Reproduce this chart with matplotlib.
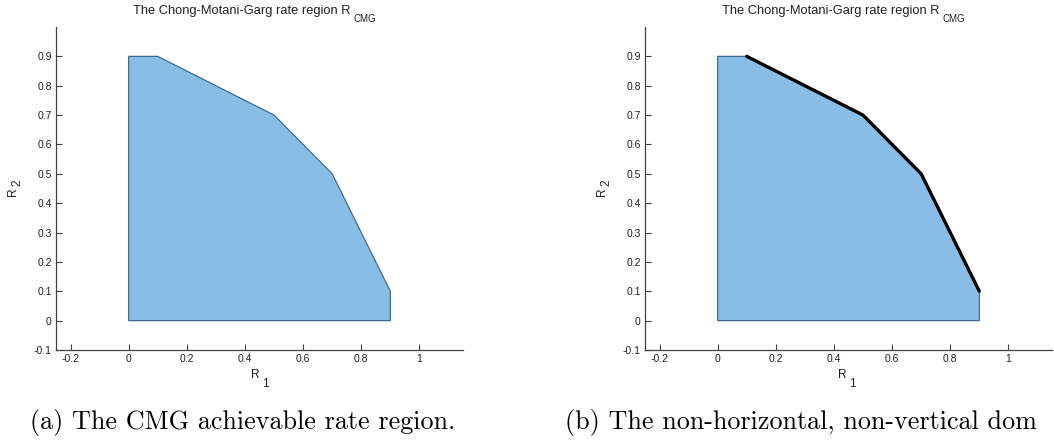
import matplotlib
matplotlib.use("Agg")
import matplotlib.pyplot as plt
from matplotlib.patches import Polygon

# Data
region_r1 = [0.0, 0.0, 0.1, 0.5, 0.7, 0.9, 0.9]
region_r2 = [0.0, 0.9, 0.9, 0.7, 0.5, 0.1, 0.0]
dominant_r1 = [0.1, 0.5, 0.7, 0.9]
dominant_r2 = [0.9, 0.7, 0.5, 0.1]
xticks = [-0.2, 0, 0.2, 0.4, 0.6, 0.8, 1]
xticklabels = ["-0.2", "0", "0.2", "0.4", "0.6", "0.8", "1"]
yticks = [-0.1, 0, 0.1, 0.2, 0.3, 0.4, 0.5, 0.6, 0.7, 0.8, 0.9]
yticklabels = ["-0.1", "0", "0.1", "0.2", "0.3", "0.4", "0.5", "0.6", "0.7", "0.8", "0.9"]
title_main = "The Chong-Motani-Garg rate region R"
title_sub = "CMG"
xlabel_main, xlabel_sub = "R", "1"
ylabel_main, ylabel_sub = "R", "2"
captions = ["(a) The CMG achievable rate region.",
            "(b) The non-horizontal, non-vertical dom"]

plt.rcParams['font.family'] = ['Liberation Sans', 'DejaVu Sans']

W, H = 1054, 441
fig = plt.figure(figsize=(W / 100, H / 100), dpi=100)

fill_color = "#89bde5"
edge_color = "#3d6a8f"
axis_color = "#404040"
text_color = "#202020"

positions = [[56/W, 1-350/H, 407/W, 323/H],
             [645/W, 1-350/H, 407/W, 323/H]]
caption_x = [30, 565]
title_x = [133, 722]
xlabel_x = [251, 838]
ylabel_x = [16, 605]

for i, pos in enumerate(positions):
    ax = fig.add_axes(pos)
    poly = Polygon(list(zip(region_r1, region_r2)), closed=True,
                   facecolor=fill_color, edgecolor=edge_color, linewidth=0.9)
    ax.add_patch(poly)
    if i == 1:
        ax.plot(dominant_r1, dominant_r2, color="black", linewidth=2.4,
                solid_joinstyle='round', solid_capstyle='round')
    ax.set_xlim(-0.25, 1.15)
    ax.set_ylim(-0.1, 1.0)
    ax.set_xticks(xticks)
    ax.set_xticklabels(xticklabels)
    ax.set_yticks(yticks)
    ax.set_yticklabels(yticklabels)
    for s in ['top', 'right']:
        ax.spines[s].set_visible(False)
    for s in ['left', 'bottom']:
        ax.spines[s].set_color(axis_color)
        ax.spines[s].set_linewidth(0.9)
    ax.tick_params(direction='in', length=4, width=0.8, color=axis_color,
                   labelsize=7.5, labelcolor=text_color, pad=3)

    # title with lowered subscript
    t = fig.text(title_x[i] / W, 1 - 14 / H, title_main, fontsize=9.3,
                 color=text_color, ha='left', va='baseline')
    ax.annotate(title_sub, xy=(1, 0), xycoords=t, xytext=(3, -5),
                textcoords='offset pixels', fontsize=7.0, color=text_color,
                ha='left', va='baseline', annotation_clip=False)

    # x label
    tx = fig.text(xlabel_x[i] / W, 1 - 378 / H, xlabel_main, fontsize=8.5,
                  color=text_color, ha='left', va='baseline')
    ax.annotate(xlabel_sub, xy=(1, 0), xycoords=tx, xytext=(3, -6),
                textcoords='offset pixels', fontsize=8.5, color=text_color,
                ha='left', va='baseline', annotation_clip=False)

    # y label (rotated)
    fig.text(ylabel_x[i] / W, 1 - 196 / H, ylabel_main, fontsize=8.5,
             color=text_color, ha='left', va='baseline', rotation=90,
             rotation_mode='anchor')
    fig.text((ylabel_x[i] + 4) / W, 1 - 186 / H, ylabel_sub, fontsize=8.5,
             color=text_color, ha='left', va='baseline', rotation=90,
             rotation_mode='anchor')

    fig.text(caption_x[i] / W, 1 - 423 / H, captions[i], fontsize=18.8,
             family='cmr10', va='center', ha='left')

fig.savefig("out.png", dpi=100)
